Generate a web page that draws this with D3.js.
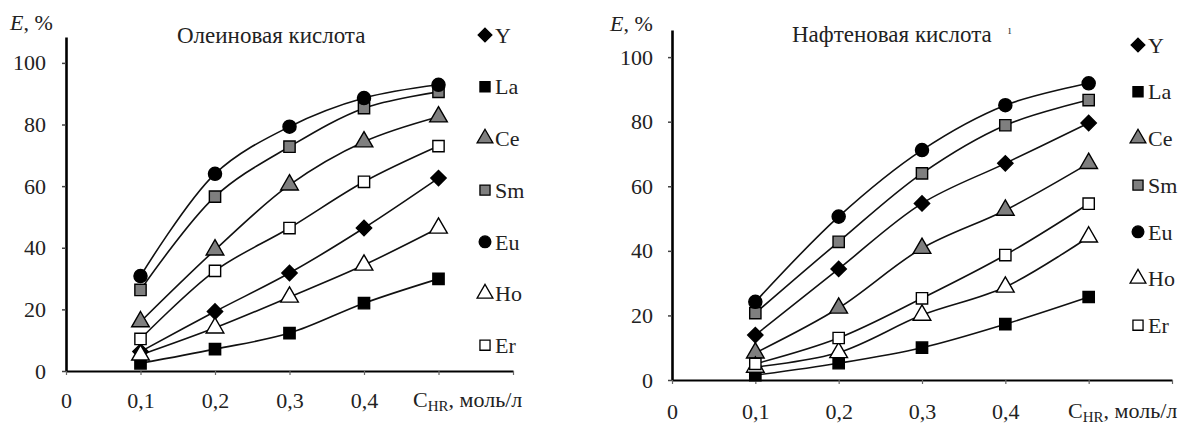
<!DOCTYPE html>
<html>
<head>
<meta charset="utf-8">
<script src="https://cdn.jsdelivr.net/npm/d3@7"></script>
<style>
  body { margin: 0; background: #fff; }
  svg { font-family: "Liberation Serif", "Times New Roman", serif; }
</style>
</head>
<body>
<div id="chart"></div>
<script>
// concentrations of HR, mol/l
var xVals = [0.1, 0.2, 0.3, 0.4, 0.5];
var elements = ["Y", "La", "Ce", "Sm", "Eu", "Ho", "Er"];
var yTicks = [0, 20, 40, 60, 80, 100];
var xTicks = [0, 0.1, 0.2, 0.3, 0.4, 0.5, 0.6];
var xTickLabels = ["0", "0,1", "0,2", "0,3", "0,4", "", ""];

// extraction E, % : oleic acid
var oleicY  = [6.3, 19.3, 31.8, 46.4, 62.6];
var oleicLa = [2.5, 7.1, 12.3, 22.0, 29.9];
var oleicCe = [16.0, 39.3, 60.4, 74.4, 82.5];
var oleicSm = [26.3, 56.6, 72.8, 85.3, 90.6];
var oleicEu = [30.8, 64.0, 79.3, 88.6, 92.9];
var oleicHo = [5.2, 14.0, 24.0, 34.4, 46.4];
var oleicEr = [10.4, 32.5, 46.4, 61.4, 73.0];

// extraction E, % : naphthenic acid
var naphY  = [13.9, 34.4, 54.7, 67.1, 79.6];
var naphLa = [1.5, 5.2, 10.0, 17.3, 25.7];
var naphCe = [8.4, 22.3, 40.8, 52.6, 67.1];
var naphSm = [20.7, 42.8, 64.0, 78.9, 86.7];
var naphEu = [24.2, 50.6, 71.2, 85.1, 91.9];
var naphHo = [4.0, 8.5, 20.1, 28.8, 44.3];
var naphEr = [5.0, 13.0, 25.3, 38.7, 54.6];

var width = 1197, height = 427;
var serif = '"Liberation Serif", "Times New Roman", serif';

var svg = d3.select("#chart")
  .append("svg")
    .attr("width", width)
    .attr("height", height);

// marker look per element
var markers = {
  Y:  {shape: d3.symbolDiamond2, fill: "#000", size: 1.0},
  La: {shape: d3.symbolSquare, fill: "#000", size: 0.85},
  Ce: {shape: d3.symbolTriangle, fill: "#7f7f7f", size: 0.9},
  Sm: {shape: d3.symbolSquare, fill: "#7f7f7f", size: 0.85},
  Eu: {shape: d3.symbolCircle, fill: "#000", size: 0.9},
  Ho: {shape: d3.symbolTriangle, fill: "#fff", size: 0.9},
  Er: {shape: d3.symbolSquare, fill: "#fff", size: 0.85}
};

function drawPanel(cfg) {
  var g = svg.append("g");

  var x = d3.scaleLinear().domain([0, 0.6]).range([cfg.left, cfg.right]);
  var y = d3.scaleLinear().domain([0, 108.4]).range([cfg.bottom, cfg.top]);

  // Y axis
  var ya = g.append("g")
    .attr("transform", "translate(" + cfg.left + ",0)")
    .call(d3.axisLeft(y).tickValues(yTicks).tickSize(4).tickSizeOuter(0).tickPadding(cfg.yPad));
  ya.attr("font-family", serif).attr("font-size", 22);
  ya.select(".domain").attr("stroke-width", 2.6);
  ya.selectAll(".tick line").attr("stroke-width", 1.5).attr("stroke", "#444");
  ya.selectAll(".tick text").attr("fill", "#222");

  // X axis
  var xa = g.append("g")
    .attr("transform", "translate(0," + cfg.bottom + ")")
    .call(d3.axisBottom(x).tickValues(xTicks).tickSize(4).tickSizeOuter(0).tickPadding(cfg.xPad)
      .tickFormat(function(d, i) { return xTickLabels[i]; }));
  xa.attr("font-family", serif).attr("font-size", 22);
  xa.select(".domain").attr("stroke-width", 2.2);
  xa.selectAll(".tick line").attr("stroke-width", 1.2).attr("stroke", "#666");
  xa.selectAll(".tick text").attr("fill", "#222");

  // axis titles
  var ey = g.append("text")
    .attr("x", cfg.eX).attr("y", cfg.eY)
    .style("font-size", "22px").attr("fill", "#222");
  ey.append("tspan").style("font-style", "italic").text("E");
  ey.append("tspan").text(", %");

  var cx = g.append("text")
    .attr("x", cfg.cX).attr("y", cfg.cY)
    .style("font-size", "22px").attr("fill", "#222");
  cx.append("tspan").text("C");
  cx.append("tspan").attr("dy", 4).style("font-size", "15px").text("HR");
  cx.append("tspan").attr("dy", -4).text(", моль/л");

  // panel title
  g.append("text")
    .attr("x", cfg.titleX).attr("y", cfg.titleY)
    .style("font-size", "23px").attr("fill", "#222")
    .text(cfg.title);
  if (cfg.mark) {
    g.append("text")
      .attr("x", cfg.markX).attr("y", cfg.titleY - 8)
      .style("font-size", "12px").attr("fill", "#444")
      .text(cfg.mark);
  }

  var line = d3.line()
    .x(function(d) { return x(d[0]); })
    .y(function(d) { return y(d[1]); })
    .curve(d3.curveCatmullRom.alpha(0.5));

  elements.forEach(function(el, i) {
    var pts = xVals.map(function(v, j) { return [v, cfg.series[i][j]]; });
    g.append("path")
      .datum(pts)
      .attr("d", line)
      .attr("fill", "none")
      .attr("stroke", "#111")
      .attr("stroke-width", 1.6);
  });

  // markers on top
  elements.forEach(function(el, i) {
    var m = markers[el];
    var sym = d3.symbol().type(m.shape).size(150 * m.size);
    g.selectAll(".pt-" + el)
      .data(cfg.series[i])
      .enter()
      .append("path")
        .attr("d", sym)
        .attr("transform", function(d, j) { return "translate(" + x(xVals[j]) + "," + y(d) + ")"; })
        .attr("fill", m.fill)
        .attr("stroke", "#000")
        .attr("stroke-width", 1.4);
  });

  // legend
  elements.forEach(function(el, i) {
    var m = markers[el];
    var ly = cfg.legY + i * cfg.legStep;
    g.append("path")
      .attr("d", d3.symbol().type(m.shape).size(120 * m.size))
      .attr("transform", "translate(" + cfg.legX + "," + ly + ")")
      .attr("fill", m.fill)
      .attr("stroke", "#000")
      .attr("stroke-width", 1.3);
    g.append("text")
      .attr("x", cfg.legX + 10).attr("y", ly)
      .attr("dy", "0.35em")
      .style("font-size", "22px").attr("fill", "#222")
      .text(el);
  });
}

drawPanel({
  left: 66, right: 513, bottom: 371, top: 37,
  yPad: 16, xPad: 17,
  eX: 10, eY: 30, cX: 413, cY: 407,
  title: "Олеиновая кислота", titleX: 177, titleY: 43,
  legX: 485, legY: 35, legStep: 51.7,
  series: [oleicY, oleicLa, oleicCe, oleicSm, oleicEu, oleicHo, oleicEr]
});

drawPanel({
  left: 672, right: 1172, bottom: 380, top: 30,
  yPad: 15, xPad: 19,
  eX: 610, eY: 31, cX: 1068, cY: 418,
  title: "Нафтеновая кислота", titleX: 792, titleY: 42, mark: "ı", markX: 1008,
  legX: 1138, legY: 45, legStep: 46.7,
  series: [naphY, naphLa, naphCe, naphSm, naphEu, naphHo, naphEr]
});
</script>
</body>
</html>
